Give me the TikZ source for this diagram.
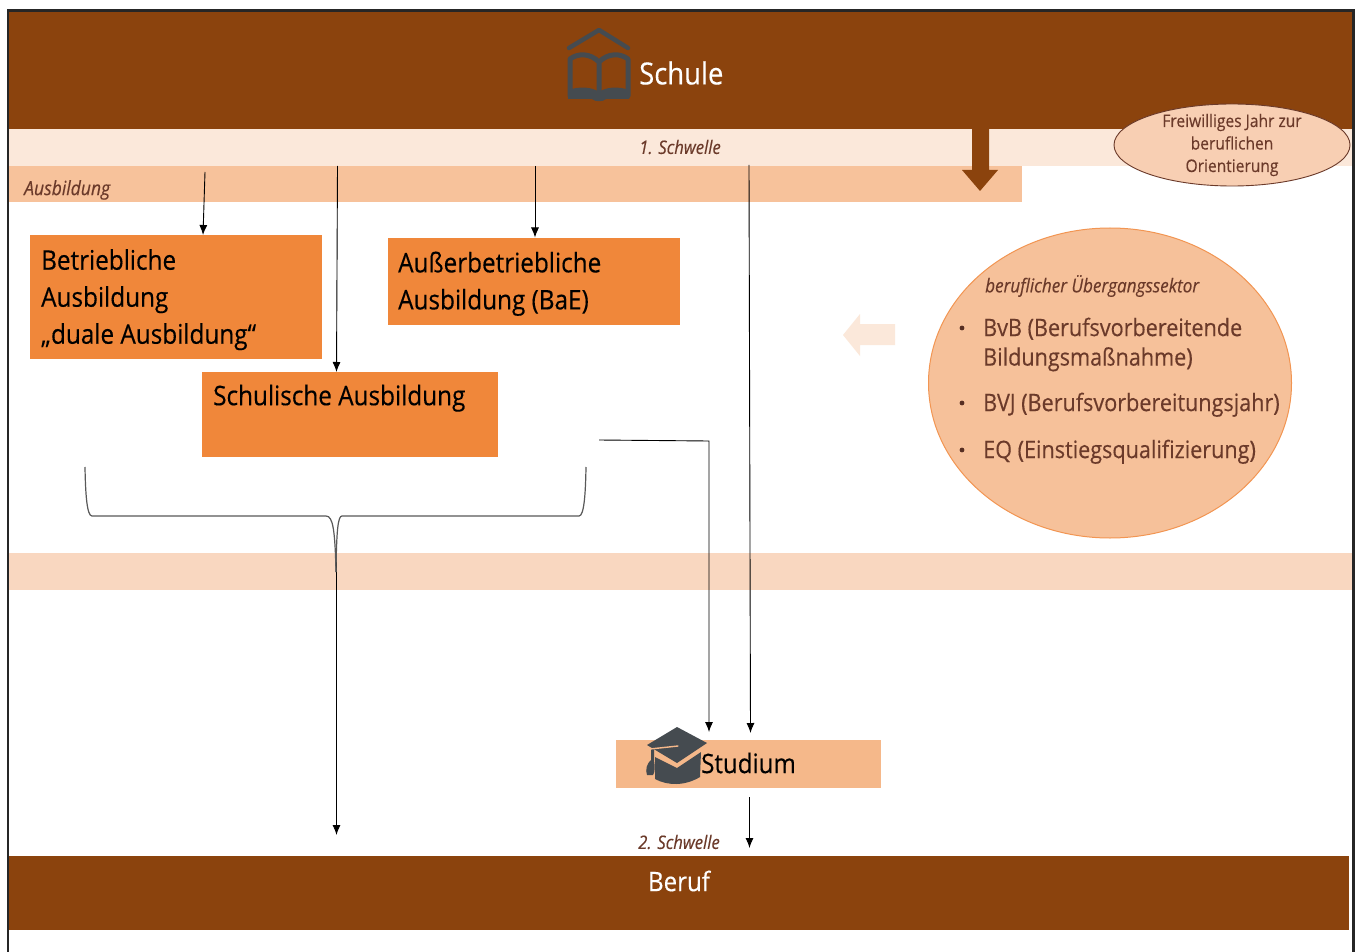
\documentclass[tikz,border=0pt]{standalone}
\usepackage{fontspec}
\setmainfont[FakeStretch=0.9,FakeBold=0.3]{Open Sans}
\usetikzlibrary{arrows.meta,shapes.geometric}
\definecolor{brownD}{HTML}{8B430D}
\definecolor{paleA}{HTML}{FBE8DA}
\definecolor{paleB}{HTML}{F7C29B}
\definecolor{paleC}{HTML}{F9D7C0}
\definecolor{orangeM}{HTML}{F0873A}
\definecolor{studB}{HTML}{F5B88A}
\definecolor{circF}{HTML}{F6C19A}
\definecolor{ovalF}{HTML}{F8CFB3}
\definecolor{txtB}{HTML}{6B3A2A}
\definecolor{iconG}{HTML}{454B50}
\tikzset{
  x=1pt,y=-1pt,
  band/.style={fill=#1,draw=none},
  boxlabel/.style={font=\fontsize{27}{37}\selectfont,text=black,align=left,anchor=north west,inner sep=0pt},
  slabel/.style={font=\fontsize{18.5}{22}\selectfont\itshape,text=txtB,inner sep=0pt},
  blabel/.style={font=\fontsize{24}{29.5}\selectfont,text=txtB,anchor=north west,inner sep=0pt,align=left},
  conn/.style={draw=black,line width=0.9pt,-{Latex[length=10pt,width=8pt]}}
}
\begin{document}
\begin{tikzpicture}
\useasboundingbox (0,0) rectangle (1360,952);
\fill[white] (0,0) rectangle (1360,952);
% bands
\fill[band=brownD] (9,12) rectangle (1354,129);
\fill[band=paleA] (9,129) rectangle (1353,166);
\fill[band=paleB] (9,166) rectangle (1022,202);
\fill[band=paleC] (9,553) rectangle (1353,590);
\fill[band=brownD] (9,856) rectangle (1349,930);
% frame
\draw[line width=2.4pt,draw=black!85] (8,952) -- (8,10.5) -- (1353.5,10.5) -- (1353.5,952);
% big arrows
\fill[brownD] (972,129) -- (989,129) -- (989,170) -- (998,170) -- (980,191) -- (962,170) -- (972,170) -- cycle;
\fill[paleA] (895,324) -- (860,324) -- (860,314) -- (843,335) -- (860,356) -- (860,345) -- (895,345) -- cycle;
% boxes
\node[fill=orangeM,minimum width=292pt,minimum height=124pt,inner sep=0pt,anchor=north west] (betrieb) at (30,235) {};
\node[fill=orangeM,minimum width=292pt,minimum height=87pt,inner sep=0pt,anchor=north west] (ausser) at (388,237.5) {};
\node[fill=orangeM,minimum width=296pt,minimum height=85pt,inner sep=0pt,anchor=north west] (schul) at (202,372) {};
\node[fill=studB,minimum width=265pt,minimum height=48pt,inner sep=0pt,anchor=north west] (stud) at (616,740) {};
\node[boxlabel] (t1) at (41,249) {Betriebliche\\Ausbildung\\„duale Ausbildung“};
\node[boxlabel] (t2) at (398,251.5) {Außerbetriebliche\\Ausbildung (BaE)};
\node[boxlabel] (t3) at (213,384.5) {Schulische Ausbildung};
% title texts
\node[font=\fontsize{30.5}{36}\selectfont,text=white,inner sep=0pt,anchor=west] (schule) at (639,73) {Schule};
\node[font=\fontsize{26.8}{32}\selectfont,text=white,inner sep=0pt] (beruf) at (679,881) {Beruf};
\node[font=\fontsize{26.8}{32}\selectfont,text=black,inner sep=0pt,anchor=west] (studium) at (701,763) {Studium};
\node[slabel] (s1) at (680,147) {1. Schwelle};
\node[slabel] (s2) at (679,842) {2. Schwelle};
\node[slabel,font=\fontsize{19.5}{22}\selectfont\itshape,anchor=west] (ausb) at (24,190) {Ausbildung};
% oval top right
\node[draw=txtB,fill=ovalF,line width=0.9pt,ellipse,minimum width=236pt,minimum height=82pt,inner sep=0pt] (freiw) at (1232,145) {};
\node[font=\fontsize{17.3}{22.5}\selectfont,text=txtB,align=center,inner sep=0pt] (ft) at (1232,145) {Freiwilliges Jahr zur\\beruflichen\\Orientierung};
% big circle
\node[fill=circF,draw=orangeM!75!circF,line width=1pt,ellipse,minimum width=363pt,minimum height=310pt,inner sep=0pt] (sektor) at (1110,383) {};
\node[font=\fontsize{19}{22}\selectfont\itshape,text=txtB,anchor=west,inner sep=0pt] (st) at (985,286) {beruflicher Übergangssektor};
\node[blabel] (b1) at (983,317.5) {BvB (Berufsvorbereitende\\Bildungsmaßnahme)};
\node[blabel] (b2) at (983,392.5) {BVJ (Berufsvorbereitungsjahr)};
\node[blabel] (b3) at (983,439.5) {EQ (Einstiegsqualifizierung)};
\fill[txtB!80!black] (962,328) circle (2.4) (962,403) circle (2.4) (962,450) circle (2.4);
% connector free ends
\coordinate (c1) at (205,172); \coordinate (c1e) at (203,235);
\coordinate (c2) at (337.5,166); \coordinate (c2e) at (336.5,372);
\coordinate (c3) at (535,166); \coordinate (c3e) at (535,237.5);
\coordinate (c4) at (749,165); \coordinate (c4e) at (750.5,733);
\coordinate (c5) at (599,440); \coordinate (c5m) at (709,441); \coordinate (c5e) at (709,732);
\coordinate (c6) at (749.5,797); \coordinate (c6e) at (749.5,848);
\coordinate (c7) at (336.5,550); \coordinate (c7e) at (336.5,835);
\draw[conn] (c1) -- (c1e);
\draw[conn] (c2) -- (c2e);
\draw[conn] (c3) -- (c3e);
\draw[conn] (c4) -- (c4e);
\draw[conn] (c5) -- (c5m) -- (c5e);
\draw[conn] (c6) -- (c6e);
\draw[conn] (c7) -- (c7e);
% brace
\draw[line width=1.2pt,draw=black!65] (85,467) .. controls (85.5,495) and (87,516) .. (92,516) -- (326,516) .. controls (333,516) and (335,530) .. (336,572);
\draw[line width=1.2pt,draw=black!65] (586,467) .. controls (585.5,495) and (584,516) .. (579,516) -- (342,516) .. controls (338,516) and (336.5,530) .. (336,572);
% book icon
\draw[iconG,line width=4.5pt,line cap=round,line join=round] (569,48) -- (599,30) -- (628,48);
\draw[iconG,line width=5pt,line join=round] (599,62) .. controls (590,53) and (578,53) .. (570,59) -- (570,96) .. controls (580,92) and (590,92) .. (599,96) .. controls (608,92) and (618,92) .. (628,96) -- (628,59) .. controls (620,53) and (608,53) .. (599,62) -- (599,96);
\fill[iconG] (568,99) -- (568,90) .. controls (580,86) and (592,87) .. (599,92) .. controls (606,87) and (618,86) .. (629,90) -- (629,99) -- (606,99) .. controls (603,102) and (595,102) .. (592,99) -- cycle;
% cap icon
\fill[iconG] (677,727) -- (707,743) -- (677,763) -- (647,745) -- cycle;
\fill[iconG] (655,757) -- (677,768) -- (701,752) -- (700,777) .. controls (685,786) and (668,786) .. (655,779) -- cycle;
\fill[iconG] (651,749) -- (654,749) -- (654,760) .. controls (655,766) and (655,773) .. (653,775) -- (647,775) .. controls (645,770) and (647,763) .. (651,760) -- cycle;
\draw[studB,line width=1.4pt,line cap=round] (650,749) -- (678,746);
\end{tikzpicture}
\end{document}
